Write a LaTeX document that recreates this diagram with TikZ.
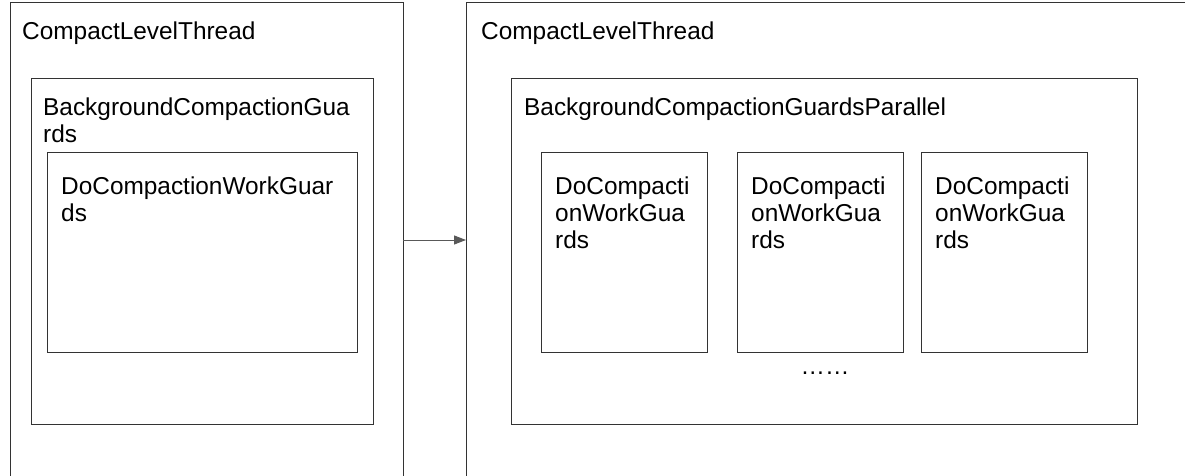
\documentclass[tikz,border=0pt]{standalone}
\usepackage{fontspec}
\setmainfont{Liberation Sans}
\usepackage{xcolor}
\definecolor{ink}{HTML}{333333}
\definecolor{ink2}{HTML}{595959}
\usetikzlibrary{arrows.meta}

\begin{document}
\begin{tikzpicture}[x=1pt,y=-1pt,
  frame/.style={draw=ink,line width=1.2pt,anchor=north west,inner sep=0pt},
  txt/.style={anchor=north west,inner sep=0pt,align=left,text=black,
    font=\fontsize{24.4}{27}\selectfont},
  arr/.style={-{Triangle[length=12pt,width=9pt]},line width=1pt,color=ink2}]
\useasboundingbox (0,0) rectangle (1185,476);
\clip (0,0) rectangle (1185,476);
% left thread
\node[frame,minimum width=393pt,minimum height=520pt] (lt) at (10,2) {};
\node[txt] at (22,22) {CompactLevelThread};
\node[frame,minimum width=342pt,minimum height=346pt] (lg) at (31,78) {};
\node[txt] at (43,98) {BackgroundCompactionGua\\rds};
\node[frame,minimum width=310pt,minimum height=200pt] (lw) at (47,152) {};
\node[txt] at (61,177) {DoCompactionWorkGuar\\ds};
% right thread
\node[frame,minimum width=760pt,minimum height=520pt] (rt) at (466,2) {};
\node[txt] at (481,22) {CompactLevelThread};
\node[frame,minimum width=626pt,minimum height=346pt] (rg) at (511,78) {};
\node[txt] at (524,98) {BackgroundCompactionGuardsParallel};
\foreach \x/\n in {541/1,737/2,921/3}{
  \node[frame,minimum width=166pt,minimum height=200pt] (w\n) at (\x,152) {};
  \node[txt] at (\x+14,177) {DoCompacti\\onWorkGua\\rds};
}
\node[txt,anchor=center] (dots) at (825,373) {\dots\dots};
% link
\draw[arr] (403,240) -- (rt.west |- 0,240);
\end{tikzpicture}
\end{document}
